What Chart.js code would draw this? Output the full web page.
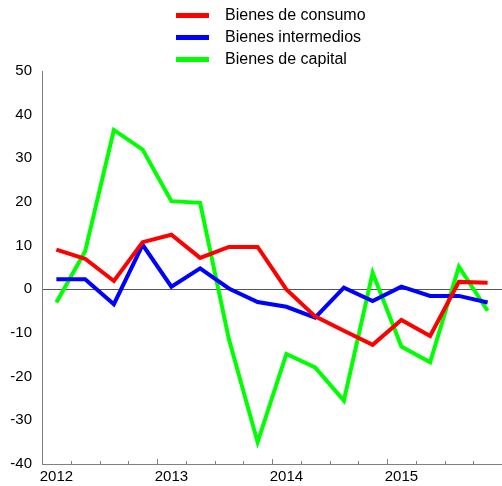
<!DOCTYPE html>
<html>
<head>
<meta charset="utf-8">
<script src="https://cdn.jsdelivr.net/npm/chart.js@4/dist/chart.umd.min.js"></script>
<style>
  html, body { margin: 0; padding: 0; background: #fff; }
  #wrap { position: relative; width: 502px; height: 486px; }
  #legend { position: absolute; left: 0; top: 0; width: 502px; font-family: "Liberation Sans", Arial, sans-serif; font-size: 16px; color: #000; }
  .row { position: absolute; left: 176px; height: 22px; }
  .sw { position: absolute; left: 0; width: 33px; height: 5px; }
  .lbl { position: absolute; left: 49px; white-space: nowrap; line-height: 22px; top: -11px; }
</style>
</head>
<body>
<div id="wrap">
  <canvas id="c" width="502" height="486"></canvas>
  <div id="legend"></div>
</div>
<script>
const quarters = ["2012T1","2012T2","2012T3","2012T4","2013T1","2013T2","2013T3","2013T4",
                  "2014T1","2014T2","2014T3","2014T4","2015T1","2015T2","2015T3","2015T4"];
const yearLabels = ["2012","","","","2013","","","","2014","","","","2015","","",""];
const seriesNames = ["Bienes de consumo","Bienes intermedios","Bienes de capital"];
const consumo =     [9.1, 7.0, 1.9, 10.8, 12.5, 7.2, 9.7, 9.7, 0.0, -6.2, -9.5, -12.7, -7.0, -10.7, 1.7, 1.5];
const intermedios = [2.3, 2.3, -3.4, 10.2, 0.6, 4.8, 0.2, -2.9, -4.0, -6.5, 0.4, -2.7, 0.6, -1.5, -1.5, -3.0];
const capital =     [-3.0, 8.7, 36.5, 32.0, 20.2, 19.8, -11.4, -35.0, -14.8, -17.9, -25.5, 3.8, -13.1, -16.7, 5.2, -4.9];
const yTicks = [-40,-30,-20,-10,0,10,20,30,40,50];
const colors = ["#ff0000","#0000ff","#00ff00"];

const FONT = "'Liberation Sans', Arial, sans-serif";

const tickPlugin = {
  id: 'inwardTicks',
  afterDraw(chart) {
    const x = chart.scales.x, ctx = chart.ctx;
    const half = (x.getPixelForValue(1) - x.getPixelForValue(0)) / 2;
    const bottom = chart.chartArea.bottom;
    ctx.save();
    ctx.strokeStyle = '#808080';
    ctx.lineWidth = 1;
    for (let i = 0; i <= quarters.length; i++) {
      const px = Math.round(x.getPixelForValue(i) - half) + 0.5;
      const len = (i % 4 === 0) ? 5 : 3;
      ctx.beginPath();
      ctx.moveTo(px, bottom);
      ctx.lineTo(px, bottom - len);
      ctx.stroke();
    }
    ctx.restore();
  }
};

const data = [consumo, intermedios, capital];
const chart = new Chart(document.getElementById('c'), {
  type: 'line',
  data: {
    labels: quarters,
    datasets: data.map((d, i) => ({
      label: seriesNames[i],
      data: d,
      borderColor: colors[i],
      backgroundColor: colors[i],
      borderWidth: 4,
      pointRadius: 0,
      tension: 0,
      borderCapStyle: 'butt',
      borderJoinStyle: 'miter'
    }))
  },
  options: {
    responsive: false,
    animation: false,
    layout: { padding: { top: 71, right: 0, bottom: 0, left: 0 } },
    plugins: { legend: { display: false }, tooltip: { enabled: false } },
    scales: {
      x: {
        offset: true,
        grid: { display: true, drawOnChartArea: false, drawTicks: false, offset: true },
        border: { display: true, color: '#808080', width: 1 },
        ticks: {
          autoSkip: false, maxRotation: 0, padding: 4,
          color: '#000', font: { family: FONT, size: 15 },
          callback: (v, i) => yearLabels[i]
        },
        afterFit: s => { s.height = 22; }
      },
      y: {
        min: yTicks[0], max: yTicks[yTicks.length - 1],
        afterBuildTicks: s => { s.ticks = yTicks.map(v => ({ value: v })); },
        grid: {
          drawTicks: false,
          color: c => (c.tick && c.tick.value === 0) ? '#555555' : 'rgba(0,0,0,0)',
          lineWidth: 1
        },
        border: { display: true, color: '#808080', width: 1 },
        ticks: { padding: 10, color: '#000', font: { family: FONT, size: 15 } },
        afterFit: s => { s.width = 42; }
      }
    }
  },
  plugins: [tickPlugin]
});

const legend = document.getElementById('legend');
const rowY = [15, 37, 59];
seriesNames.forEach((name, i) => {
  const row = document.createElement('div');
  row.className = 'row';
  row.style.top = rowY[i] + 'px';
  const sw = document.createElement('span');
  sw.className = 'sw';
  sw.style.background = colors[i];
  sw.style.top = '-2px';
  const lbl = document.createElement('span');
  lbl.className = 'lbl';
  lbl.textContent = name;
  row.appendChild(sw);
  row.appendChild(lbl);
  legend.appendChild(row);
});
</script>
</body>
</html>
